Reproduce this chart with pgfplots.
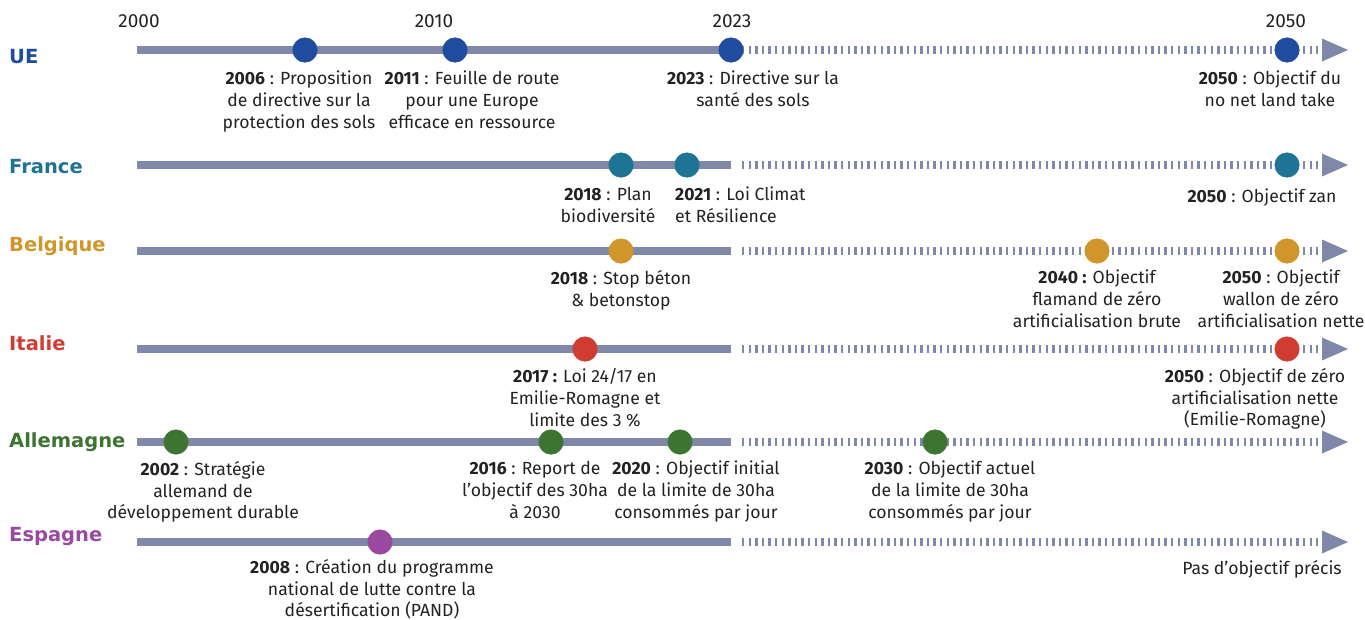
\documentclass[border=0pt]{standalone}
\usepackage{pgfplots}
\pgfplotsset{compat=1.18}
\usepackage{fontspec}
\setmainfont{Fira Sans}
\newfontfamily\countryfont{DejaVu Sans}
\definecolor{linecol}{HTML}{7F88A8}
\definecolor{cUE}{HTML}{1F4C9F}
\definecolor{cFR}{HTML}{1F7394}
\definecolor{cBE}{HTML}{D0962B}
\definecolor{cIT}{HTML}{D13C32}
\definecolor{cDE}{HTML}{3D7432}
\definecolor{cES}{HTML}{9A48A0}
\definecolor{txt}{HTML}{222222}
\begin{document}
\begin{tikzpicture}[
  lbl/.style={align=center, anchor=north, inner sep=0pt, text=txt, font=\fontsize{17.6}{21.8}\selectfont},
  country/.style={anchor=west, inner sep=0pt, font=\fontsize{19.5}{24}\countryfont\bfseries},
  yr/.style={inner sep=0pt, text=txt, font=\fontsize{19}{22}\selectfont},
]
\begin{axis}[
  scale only axis, width=1365pt, height=619pt,
  xmin=0, xmax=1365, ymin=0, ymax=619, y dir=reverse,
  hide axis, clip=false,
]
% timelines (rows at y = 50,165,251,349,442,542)
\pgfplotsinvokeforeach{50,165,251,349,442,542}{
  \addplot[draw=linecol, line width=8pt] coordinates {(137,#1) (731,#1)};
  \addplot[draw=linecol, line width=8pt, dash pattern=on 2.3pt off 4.3pt] coordinates {(742,#1) (1318,#1)};
  \addplot[fill=linecol, draw=none] coordinates {(1322,#1-11.5) (1348,#1) (1322,#1+11.5)} -- cycle;
}
% events
\addplot[only marks, mark=*, mark size=12.3pt, color=cUE] coordinates {(305,50) (455,50) (731,50) (1287,50)};
\addplot[only marks, mark=*, mark size=12.3pt, color=cFR] coordinates {(621,165) (687,165) (1287,165)};
\addplot[only marks, mark=*, mark size=12.3pt, color=cBE] coordinates {(621,251) (1097,251) (1287,251)};
\addplot[only marks, mark=*, mark size=12.3pt, color=cIT] coordinates {(585,349) (1287,349)};
\addplot[only marks, mark=*, mark size=12.3pt, color=cDE] coordinates {(176,442) (551,442) (680,442) (935,442)};
\addplot[only marks, mark=*, mark size=12.3pt, color=cES] coordinates {(380,542)};

% year labels
\node[yr] at (axis cs:139,21) {2000};
\node[yr] at (axis cs:434,21) {2010};
\node[yr] at (axis cs:732,21) {2023};
\node[yr] at (axis cs:1286,21) {2050};

% country labels
\node[country, text=cUE] at (axis cs:9,57) {UE};
\node[country, text=cFR] at (axis cs:9,167) {France};
\node[country, text=cBE] at (axis cs:9,246) {Belgique};
\node[country, text=cIT] at (axis cs:9,343) {Italie};
\node[country, text=cDE] at (axis cs:9,442) {Allemagne};
\node[country, text=cES] at (axis cs:9,536) {Espagne};

% UE
\node[lbl] at (axis cs:299,71) {\textbf{2006} : Proposition\\de directive sur la\\protection des sols};
\node[lbl] at (axis cs:472,71) {\textbf{2011} : Feuille de route\\pour une Europe\\efficace en ressource};
\node[lbl] at (axis cs:753,71) {\textbf{2023} : Directive sur la\\santé des sols};
\node[lbl] at (axis cs:1270,71) {\textbf{2050} : Objectif du\\no net land take};
% France
\node[lbl] at (axis cs:608,187) {\textbf{2018} : Plan\\biodiversité};
\node[lbl, align=left, anchor=north west] at (axis cs:675,187) {\textbf{2021} : Loi Climat\\et Résilience};
\node[lbl] at (axis cs:1262,189) {\textbf{2050} : Objectif zan};
% Belgique
\node[lbl] at (axis cs:621,270) {\textbf{2018} : Stop béton\\\& betonstop};
\node[lbl] at (axis cs:1097,270) {\textbf{2040 :} Objectif\\flamand de zéro\\artificialisation brute};
\node[lbl] at (axis cs:1281,270) {\textbf{2050} : Objectif\\wallon de zéro\\artificialisation nette};
% Italie
\node[lbl] at (axis cs:585,368) {\textbf{2017 :} Loi 24/17 en\\Emilie-Romagne et\\limite des 3 \%};
\node[lbl] at (axis cs:1255,368) {\textbf{2050} : Objectif de zéro\\artificialisation nette\\(Emilie-Romagne)};
% Allemagne
\node[lbl] at (axis cs:203,461) {\textbf{2002} : Stratégie\\allemand de\\développement durable};
\node[lbl] at (axis cs:535,461) {\textbf{2016} : Report de\\l'objectif des 30ha\\à 2030};
\node[lbl] at (axis cs:696,461) {\textbf{2020} : Objectif initial\\de la limite de 30ha\\consommés par jour};
\node[lbl] at (axis cs:950,461) {\textbf{2030} : Objectif actuel\\de la limite de 30ha\\consommés par jour};
% Espagne
\node[lbl] at (axis cs:372,559) {\textbf{2008} : Création du programme\\national de lutte contre la\\désertification (PAND)};
\node[lbl] at (axis cs:1262,560) {Pas d'objectif précis};
\end{axis}
\pgfresetboundingbox
\path (0,0) rectangle (1365pt,619pt);
\end{tikzpicture}
\end{document}
